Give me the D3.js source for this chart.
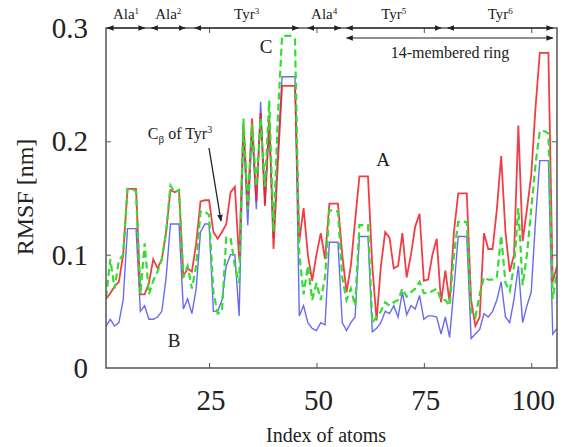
<!DOCTYPE html>
<html>
<head>
<meta charset="utf-8">
<script src="https://cdn.jsdelivr.net/npm/d3@7"></script>
<style>
body { margin: 0; background: #fff; }
text { font-family: "Liberation Serif", "DejaVu Serif", serif; fill: #222; }
</style>
</head>
<body>
<script>
// RMSF per atom, three runs (A red, C green dashed, B blue)
var rmsfA = [.061,.066,.072,.076,.100,.158,.158,.158,.065,.065,
	.075,.096,.088,.096,.120,.157,.155,.157,.081,.088,
	.085,.110,.147,.148,.148,.120,.114,.120,.127,.155,
	.160,.096,.216,.143,.220,.147,.225,.143,.220,.105,
	.180,.249,.249,.249,.249,.112,.141,.100,.077,.100,
	.119,.096,.145,.145,.145,.100,.067,.090,.130,.169,
	.169,.169,.090,.042,.090,.120,.115,.088,.090,.119,
	.080,.100,.125,.136,.077,.078,.100,.114,.058,.086,
	.058,.120,.154,.154,.154,.060,.037,.045,.119,.105,
	.105,.140,.187,.120,.085,.100,.214,.112,.140,.170,
	.230,.278,.278,.278,.076,.090];
var rmsfC = [.062,.096,.070,.095,.100,.158,.158,.156,.065,.110,
	.065,.077,.085,.096,.120,.161,.155,.157,.080,.090,
	.070,.090,.138,.138,.135,.067,.048,.050,.115,.115,
	.090,.075,.220,.140,.215,.160,.220,.160,.236,.120,
	.220,.293,.293,.293,.290,.100,.065,.090,.060,.075,
	.060,.080,.139,.139,.138,.080,.060,.070,.055,.126,
	.126,.126,.040,.045,.050,.058,.055,.058,.060,.070,
	.063,.067,.070,.076,.066,.066,.068,.070,.060,.060,
	.055,.100,.129,.129,.129,.050,.045,.065,.080,.078,
	.078,.080,.117,.075,.068,.090,.141,.073,.100,.140,
	.180,.209,.209,.207,.061,.085];
var rmsfB = [.037,.043,.037,.040,.060,.123,.123,.123,.050,.055,
	.043,.043,.045,.050,.080,.127,.127,.127,.052,.061,
	.048,.070,.120,.127,.127,.050,.050,.060,.090,.100,
	.100,.046,.210,.126,.210,.140,.235,.145,.215,.114,
	.190,.257,.257,.257,.257,.046,.055,.040,.035,.033,
	.040,.038,.111,.111,.111,.040,.033,.040,.045,.116,
	.116,.116,.032,.035,.040,.050,.048,.055,.045,.067,
	.047,.055,.052,.064,.043,.046,.046,.045,.030,.045,
	.027,.070,.116,.116,.116,.026,.030,.034,.048,.045,
	.050,.060,.076,.045,.040,.061,.090,.040,.055,.067,
	.130,.183,.183,.183,.030,.035];

var xTicks = [25, 50, 75, 100];
var yTicks = [0, 0.1, 0.2, 0.3];

// residues along the top (atom index ranges)
var resName = ["Ala", "Ala", "Tyr", "Ala", "Tyr", "Tyr"];
var resNum = ["1", "2", "3", "4", "5", "6"];
var resFrom = [1.3, 11.6, 21.7, 48, 57, 80.6];
var resTo = [10, 19.4, 45.8, 55.6, 79, 105];
var ringRange = [57, 105];

var W = 568, H = 447;
var pl = 106, pr = 557, pt = 28, pb = 368;

var svg = d3.select("body").append("svg")
	.attr("width", W)
	.attr("height", H);

var x = d3.scaleLinear().domain([1, 106]).range([pl, pr]);
var y = d3.scaleLinear().domain([0, 0.3]).range([pb, pt]);

var defs = svg.append("defs");
defs.append("marker").attr("id", "ah")
	.attr("viewBox", "0 0 10 10").attr("refX", 9).attr("refY", 5)
	.attr("markerWidth", 7).attr("markerHeight", 7)
	.attr("markerUnits", "userSpaceOnUse")
	.attr("orient", "auto-start-reverse")
	.append("path").attr("d", "M0,1L10,5L0,9z").attr("fill", "#222");

defs.append("clipPath").attr("id", "clip")
	.append("rect").attr("x", pl).attr("y", pt).attr("width", pr - pl).attr("height", pb - pt);

// lines
var line = d3.line()
	.x(function (d, i) { return x(i + 1); })
	.y(function (d) { return y(d); });

var plot = svg.append("g").attr("clip-path", "url(#clip)");

plot.append("path").datum(rmsfB)
	.attr("d", line).attr("fill", "none")
	.attr("stroke", "#5a5af0").attr("stroke-width", 1.4).attr("stroke-opacity", 0.9);

plot.append("path").datum(rmsfA)
	.attr("d", line).attr("fill", "none")
	.attr("stroke", "#ee1c24").attr("stroke-width", 1.8).attr("stroke-opacity", 0.85);

plot.append("path").datum(rmsfC)
	.attr("d", line).attr("fill", "none")
	.attr("stroke", "#33dd33").attr("stroke-width", 2.2)
	.attr("stroke-dasharray", "7,4");

// frame
svg.append("rect")
	.attr("x", pl).attr("y", pt).attr("width", pr - pl).attr("height", pb - pt)
	.attr("fill", "none").attr("stroke", "#555").attr("stroke-width", 1.5);

// inner ticks
var xAxisB = d3.axisBottom(x).tickValues(xTicks).tickSize(-5).tickFormat("");
var xAxisT = d3.axisTop(x).tickValues(xTicks).tickSize(-5).tickFormat("");
var yAxisL = d3.axisLeft(y).tickValues([0.1, 0.2]).tickSize(-5).tickFormat("");
var yAxisR = d3.axisRight(y).tickValues([0.1, 0.2]).tickSize(-5).tickFormat("");
[[xAxisB, "translate(0," + pb + ")"], [xAxisT, "translate(0," + pt + ")"],
 [yAxisL, "translate(" + pl + ",0)"], [yAxisR, "translate(" + pr + ",0)"]].forEach(function (a) {
	var g = svg.append("g").attr("transform", a[1]).call(a[0]);
	g.select(".domain").remove();
	g.selectAll("line").attr("stroke", "#555");
});

// tick labels
svg.selectAll(".xl").data(xTicks).enter().append("text")
	.attr("x", function (d) { return x(d) + 2; })
	.attr("y", 410)
	.attr("text-anchor", "middle")
	.attr("font-size", 29)
	.text(function (d) { return d; });

svg.selectAll(".yl").data(yTicks).enter().append("text")
	.attr("x", 88)
	.attr("y", function (d) { return y(d) + 10; })
	.attr("text-anchor", "end")
	.attr("font-size", 29)
	.text(function (d) { return d === 0 ? "0" : d3.format(".1f")(d); });

svg.append("text")
	.attr("x", 326).attr("y", 442)
	.attr("text-anchor", "middle").attr("font-size", 20)
	.text("Index of atoms");

svg.append("text")
	.attr("transform", "translate(33,197) rotate(-90)")
	.attr("text-anchor", "middle").attr("font-size", 24)
	.text("RMSF [nm]");

// residue arrows along the top
resName.forEach(function (n, i) {
	svg.append("line")
		.attr("x1", x(resFrom[i])).attr("x2", x(resTo[i]))
		.attr("y1", pt).attr("y2", pt)
		.attr("stroke", "#222").attr("stroke-width", 1.2)
		.attr("marker-start", "url(#ah)").attr("marker-end", "url(#ah)");
	var t = svg.append("text")
		.attr("x", x((resFrom[i] + resTo[i]) / 2))
		.attr("y", 19)
		.attr("text-anchor", "middle")
		.attr("font-size", 15);
	t.append("tspan").text(n);
	t.append("tspan").attr("dy", -5).attr("font-size", 9).text(resNum[i]);
});

svg.append("line")
	.attr("x1", x(ringRange[0])).attr("x2", x(ringRange[1]))
	.attr("y1", 38).attr("y2", 38)
	.attr("stroke", "#222").attr("stroke-width", 1.2)
	.attr("marker-start", "url(#ah)").attr("marker-end", "url(#ah)");

svg.append("text")
	.attr("x", 450).attr("y", 58)
	.attr("text-anchor", "middle").attr("font-size", 16)
	.text("14-membered ring");

// curve labels
svg.append("text").attr("x", 266).attr("y", 53).attr("text-anchor", "middle").attr("font-size", 19).text("C");
svg.append("text").attr("x", 383).attr("y", 166).attr("text-anchor", "middle").attr("font-size", 19).text("A");
svg.append("text").attr("x", 174).attr("y", 347).attr("text-anchor", "middle").attr("font-size", 19).text("B");

var cb = svg.append("text").attr("x", 180).attr("y", 139).attr("text-anchor", "middle").attr("font-size", 16);
cb.append("tspan").text("C");
cb.append("tspan").attr("dy", 4).attr("font-size", 11).text("β");
cb.append("tspan").attr("dy", -4).text(" of Tyr");
cb.append("tspan").attr("dy", -6).attr("font-size", 10).text("3");

svg.append("line")
	.attr("x1", 209).attr("y1", 148).attr("x2", 221).attr("y2", 221)
	.attr("stroke", "#222").attr("stroke-width", 1.3)
	.attr("marker-end", "url(#ah)");
</script>
</body>
</html>
